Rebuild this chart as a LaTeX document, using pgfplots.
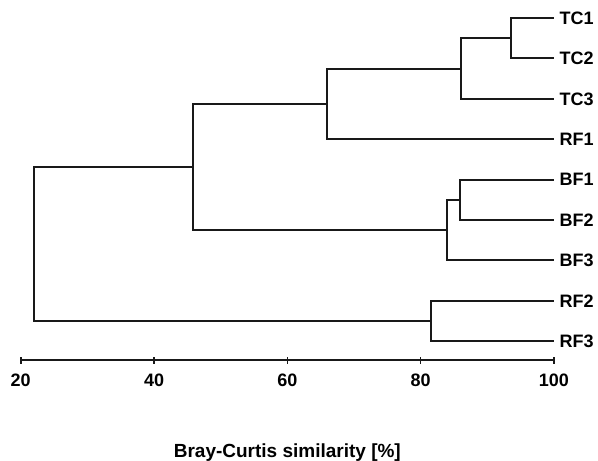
\documentclass[border=0pt]{standalone}
\usepackage{pgfplots}
\pgfplotsset{compat=1.18}
\usepackage{fontspec}
\setmainfont{Liberation Sans}
\tikzset{
    dend/.style={black!90, line width=2pt},
    leaf/.style={anchor=base west, xshift=2pt, yshift=-6.2pt,
        font=\bfseries\fontsize{18}{20}\selectfont},
}
\begin{document}
\begin{tikzpicture}
\begin{axis}[
    scale only axis,
    width=533.3pt, height=360pt,
    xmin=20, xmax=100,
    ymin=0.535, ymax=9.446,
    axis x line=bottom, axis y line=none,
    axis line style={-, line width=2pt, black!90},
    xtick={20,40,60,80,100},
    ytick=\empty,
    tick style={line width=1.6pt, black!90},
    major tick length=7pt,
    tick align=center,
    /pgf/number format/assume math mode=true,
    ticklabel style={font=\bfseries\fontsize{18}{20}\selectfont},
    xticklabel style={anchor=base, yshift=-23pt},
    xlabel={Bray-Curtis similarity [\%]},
    xlabel style={at={(axis description cs:0.5,0)}, anchor=base, yshift=-97pt,
        font=\bfseries\fontsize{19}{21}\selectfont},
    clip=false,
]
% leaves at y = 9 (TC1) down to 1 (RF3)
\addplot[dend, no markers] coordinates {(100,9) (93.55,9) (93.55,8) (100,8)};
\addplot[dend, no markers] coordinates {(93.55,8.5) (86.1,8.5) (86.1,7) (100,7)};
\addplot[dend, no markers] coordinates {(86.1,7.75) (65.9,7.75) (65.9,6) (100,6)};
\addplot[dend, no markers] coordinates {(100,5) (85.9,5) (85.9,4) (100,4)};
\addplot[dend, no markers] coordinates {(85.9,4.5) (83.95,4.5) (83.95,3) (100,3)};
\addplot[dend, no markers] coordinates {(65.9,6.875) (45.9,6.875) (45.9,3.75) (83.95,3.75)};
\addplot[dend, no markers] coordinates {(100,2) (81.5,2) (81.5,1) (100,1)};
\addplot[dend, no markers] coordinates {(45.9,5.3125) (22.0,5.3125) (22.0,1.5) (81.5,1.5)};

\node[leaf] at (axis cs:100,9) {TC1};
\node[leaf] at (axis cs:100,8) {TC2};
\node[leaf] at (axis cs:100,7) {TC3};
\node[leaf] at (axis cs:100,6) {RF1};
\node[leaf] at (axis cs:100,5) {BF1};
\node[leaf] at (axis cs:100,4) {BF2};
\node[leaf] at (axis cs:100,3) {BF3};
\node[leaf] at (axis cs:100,2) {RF2};
\node[leaf] at (axis cs:100,1) {RF3};

\coordinate (O) at (axis cs:20,0.535);
\end{axis}
\pgfresetboundingbox
\path[use as bounding box] ([shift={(-20.7pt,-101pt)}]O) rectangle ([shift={(577.3pt,360pt)}]O);
\end{tikzpicture}
\end{document}
